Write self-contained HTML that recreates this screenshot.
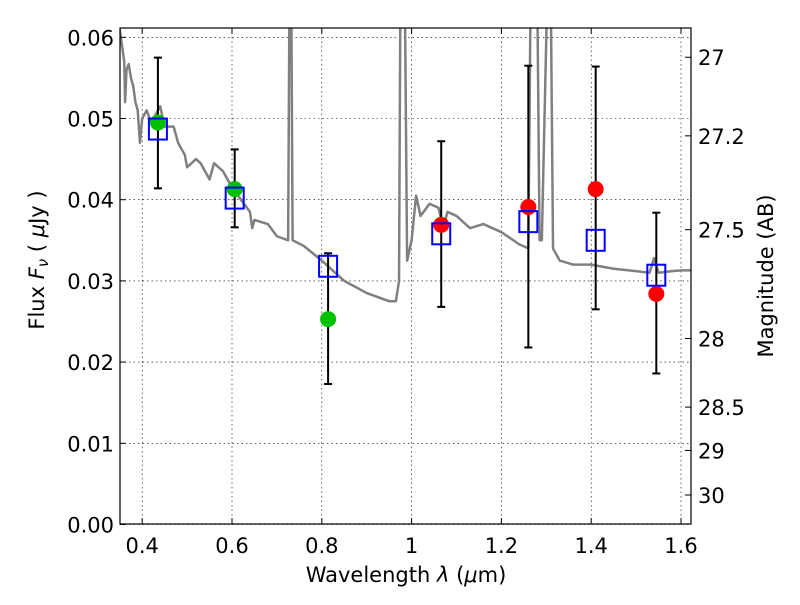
<!DOCTYPE html>
<html><head><meta charset="utf-8"><style>
body{margin:0;background:#fff}
svg text{font-family:"DejaVu Sans","Liberation Sans",sans-serif;fill:#000}
</style></head><body>
<svg id="chart" width="800" height="600" xmlns="http://www.w3.org/2000/svg">
<defs><clipPath id="clip"><rect x="120" y="28" width="571" height="496"/></clipPath></defs>
<g id="grid"></g>
<g id="spec" clip-path="url(#clip)"></g>
<g id="marks" clip-path="url(#clip)"></g>
<rect x="120" y="28" width="571" height="496" fill="none" stroke="#000" stroke-width="1.2"/>
<g id="axes"></g>
<text x="406" y="582" font-size="21" text-anchor="middle">Wavelength  <tspan font-style="italic">λ</tspan> (<tspan font-style="italic">μ</tspan>m)</text>
<text transform="translate(44,260) rotate(-90)" font-size="21" text-anchor="middle">Flux  <tspan font-style="italic">F</tspan><tspan font-style="italic" font-size="15" dy="4">ν</tspan><tspan dy="-4">  (  </tspan><tspan font-style="italic">μ</tspan>Jy )</text>
<text transform="translate(773,276) rotate(-90)" font-size="21" text-anchor="middle">Magnitude (AB)</text>
</svg>
<script>
const xTicks=[0.4,0.6,0.8,1,1.2,1.4,1.6];
const xTickLabels=["0.4","0.6","0.8","1","1.2","1.4","1.6"];
const yTicks=[0,0.01,0.02,0.03,0.04,0.05,0.06];
const yTickLabels=["0.00","0.01","0.02","0.03","0.04","0.05","0.06"];
const magTicks=[27,27.2,27.5,28,28.5,29,30];
const magTickLabels=["27","27.2","27.5","28","28.5","29","30"];
const bandWave=[0.435,0.606,0.814,1.066,1.26,1.41,1.545];
const modelFlux=[0.0487,0.0402,0.0318,0.0358,0.0373,0.0350,0.0307];
const obsFlux=[0.0495,0.0413,0.0253,0.0369,0.0391,0.0413,0.0284];
const obsColor=["#00c000","#00c000","#00c000","red","red","red","red"];
const errLow=[0.0414,0.0366,0.0173,0.0268,0.0218,0.0265,0.0186];
const errHigh=[0.0575,0.0462,0.0334,0.0472,0.0565,0.0564,0.0384];
const specWave=[0.35,0.355,0.36,0.362,0.365,0.37,0.375,0.38,0.385,0.39,0.395,0.40,0.41,0.42,0.43,0.44,0.45,0.47,0.48,0.49,0.495,0.50,0.52,0.53,0.54,0.55,0.56,0.58,0.60,0.62,0.64,0.645,0.65,0.68,0.70,0.725,0.728,0.732,0.735,0.76,0.80,0.85,0.90,0.95,0.965,0.972,0.975,0.985,0.99,1.0,1.01,1.02,1.04,1.06,1.07,1.08,1.10,1.13,1.16,1.20,1.24,1.26,1.265,1.28,1.285,1.29,1.302,1.31,1.315,1.33,1.36,1.40,1.45,1.50,1.53,1.54,1.55,1.58,1.60,1.63];
const specFlux=[0.061,0.059,0.057,0.052,0.056,0.0567,0.055,0.054,0.052,0.051,0.047,0.050,0.051,0.0495,0.0505,0.0515,0.049,0.049,0.047,0.046,0.0455,0.044,0.045,0.0445,0.0435,0.0425,0.0445,0.0435,0.0415,0.040,0.0385,0.0365,0.0375,0.037,0.0355,0.035,0.065,0.065,0.035,0.0343,0.0325,0.030,0.0285,0.0275,0.0275,0.030,0.065,0.065,0.0325,0.035,0.0405,0.038,0.0395,0.039,0.0365,0.0385,0.038,0.0365,0.037,0.036,0.0345,0.034,0.065,0.065,0.035,0.035,0.065,0.065,0.034,0.0325,0.032,0.032,0.0315,0.0312,0.031,0.0328,0.031,0.0312,0.0313,0.0313];

const NS="http://www.w3.org/2000/svg";
const X=v=>142.2+(v-0.4)*449;
const Y=v=>524.5-v*8120;
const magY=m=>Y(Math.pow(10,(23.9-m)/2.5));
function mk(tag,attrs,parent){const e=document.createElementNS(NS,tag);for(const k in attrs)e.setAttribute(k,attrs[k]);parent.appendChild(e);return e;}
const grid=document.getElementById('grid'),axes=document.getElementById('axes'),spec=document.getElementById('spec'),marks=document.getElementById('marks');
xTicks.forEach((t,i)=>{
  const g=mk('line',{x1:X(t),x2:X(t),y1:28,y2:524,stroke:'#000','stroke-width':0.6,'stroke-dasharray':'1.5,3'},grid);
  
  
  mk('line',{x1:X(t),x2:X(t),y1:524,y2:518,stroke:'#000'},axes);
  mk('line',{x1:X(t),x2:X(t),y1:28,y2:34,stroke:'#000'},axes);
  const tx=mk('text',{x:X(t),y:553,'font-size':21,'text-anchor':'middle'},axes);
  tx.textContent=xTickLabels[i];
  
  
});
yTicks.forEach((t,i)=>{
  const g=mk('line',{x1:120,x2:691,y1:Y(t),y2:Y(t),stroke:'#000','stroke-width':0.6,'stroke-dasharray':'1.5,3'},grid);
  
  
  mk('line',{x1:120,x2:126,y1:Y(t),y2:Y(t),stroke:'#000'},axes);
  const tx=mk('text',{x:114,y:Y(t)+8,'font-size':21,'text-anchor':'end'},axes);
  tx.textContent=yTickLabels[i];
  
  
});
magTicks.forEach((m,i)=>{
  const y=magY(m);
  mk('line',{x1:691,x2:685,y1:y,y2:y,stroke:'#000'},axes);
  const tx=mk('text',{x:698,y:y+8,'font-size':21},axes);
  tx.textContent=magTickLabels[i];
  
  
});
const p=mk('polyline',{points:specWave.map((w,i)=>X(w)+','+Y(specFlux[i])).join(' '),fill:'none',stroke:'#808080','stroke-width':2.5,'stroke-linejoin':'round'},spec);


bandWave.forEach((w,i)=>{
  const x=X(w);
  const e=mk('g',{stroke:'#000','stroke-width':2},marks);
  
  
  mk('line',{x1:x,x2:x,y1:Y(errLow[i]),y2:Y(errHigh[i])},e);
  mk('line',{x1:x-4,x2:x+4,y1:Y(errLow[i]),y2:Y(errLow[i])},e);
  mk('line',{x1:x-4,x2:x+4,y1:Y(errHigh[i]),y2:Y(errHigh[i])},e);
  const c=mk('circle',{cx:x,cy:Y(obsFlux[i]),r:8,fill:obsColor[i]},marks);
  
  
  const r=mk('rect',{x:x-9,y:Y(modelFlux[i])-10.5,width:18,height:21,fill:'none',stroke:'#0000ff','stroke-width':2},marks);
  
  
});
</script>
</body></html>
